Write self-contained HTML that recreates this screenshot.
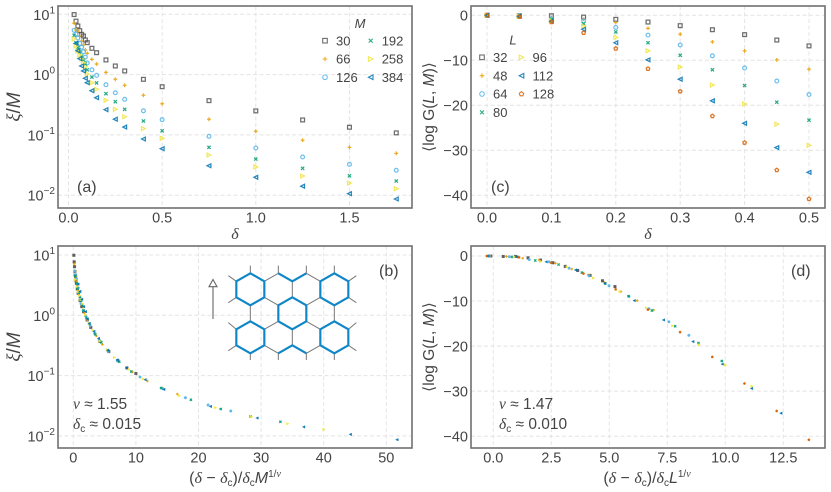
<!DOCTYPE html>
<html lang="en">
<head>
<meta charset="utf-8">
<title>Correlation length and log G scaling collapse</title>
<style>
html,body{margin:0;padding:0;background:#fff;}
svg{display:block;}
text{font-family:"Liberation Sans","DejaVu Sans",sans-serif;fill:#444;}
.tick{font-size:14.5px;}
.leg{font-size:13px;}
.panel-tag{font-size:16px;}
.axl{font-size:15.5px;}
.axb{font-size:16px;}
.xi{font-size:19px;}
.it{font-style:italic;}
.mi{font-family:"Liberation Serif","DejaVu Serif",serif;font-style:italic;}
.spine{fill:none;stroke:#707070;stroke-width:1.6;}
</style>
</head>
<body>
<svg id="figure" xmlns="http://www.w3.org/2000/svg" width="831" height="492" viewBox="0 0 831 492">
  <rect x="0" y="0" width="831" height="492" fill="#fff"/>
  <g id="grid-layer"></g>

  <g transform="translate(190,245) scale(0.33333)" fill="none" stroke-linejoin="round">
    <path stroke="#777" stroke-width="3" d="M223 109L265 85M349 85L391 109M307 109V157M223 157L265 181M349 181L391 157M181 181V229M433 181V229M223 253L265 229M349 229L391 253M307 253V301M223 301L265 325M349 325L391 301M181 85V62M265 85V62M349 85V62M433 85V62M139 109L115 92M139 157L115 173M475 109L499 92M475 157L499 173M139 253L115 233M139 301L115 317M475 253L499 233M475 301L499 317M181 325V345M265 325V345M349 325V345M433 325V345"/>
    <path stroke="#0f86c8" stroke-width="6.5" d="M181 85L223 109L223 157L181 181L139 157L139 109ZM433 85L475 109L475 157L433 181L391 157L391 109ZM307 157L349 181L349 229L307 253L265 229L265 181ZM181 229L223 253L223 301L181 325L139 301L139 253ZM433 229L475 253L475 301L433 325L391 301L391 253ZM265 85L307 109L349 85M265 325L307 301L349 325"/>
  </g>
  <g fill="none" stroke="#666" stroke-width="1.1">
    <path d="M213 319V287"/>
    <path d="M213 279.5L217 286.7H209Z"/>
  </g>

  <g id="marks-layer"></g>
  <g id="ticks-layer"></g>
  <g id="legend-layer"></g>

  <rect class="spine" x="58" y="6" width="354" height="202"/>
  <rect class="spine" x="471" y="6" width="354" height="202"/>
  <rect class="spine" x="58" y="246" width="354" height="202"/>
  <rect class="spine" x="471" y="246" width="354" height="202"/>

  <text class="panel-tag" x="77" y="192">(a)</text>
  <text class="panel-tag" x="379" y="276">(b)</text>
  <text class="panel-tag" x="491" y="192">(c)</text>
  <text class="panel-tag" x="791" y="276">(d)</text>

  <text class="xi" transform="translate(20,107) rotate(-90)" text-anchor="middle"><tspan class="mi">ξ</tspan>/<tspan class="it">M</tspan></text>
  <text class="xi" transform="translate(20,347) rotate(-90)" text-anchor="middle"><tspan class="mi">ξ</tspan>/<tspan class="it">M</tspan></text>
  <text class="axl" transform="translate(434,107) rotate(-90)" text-anchor="middle">⟨log G(<tspan class="it">L</tspan>, <tspan class="it">M</tspan>)⟩</text>
  <text class="axl" transform="translate(434,347) rotate(-90)" text-anchor="middle">⟨log G(<tspan class="it">L</tspan>, <tspan class="it">M</tspan>)⟩</text>

  <text class="axb mi" x="235" y="239" text-anchor="middle">δ</text>
  <text class="axb mi" x="648" y="239" text-anchor="middle">δ</text>
  <text class="axb" x="235" y="483" text-anchor="middle">(<tspan class="mi">δ</tspan> − <tspan class="mi">δ</tspan><tspan font-size="10" dy="3">c</tspan><tspan dy="-3">)/</tspan><tspan class="mi">δ</tspan><tspan font-size="10" dy="3">c</tspan><tspan class="it" dy="-3">M</tspan><tspan font-size="10" dy="-6">1/</tspan><tspan font-size="10" class="mi">ν</tspan></text>
  <text class="axb" x="647" y="483" text-anchor="middle">(<tspan class="mi">δ</tspan> − <tspan class="mi">δ</tspan><tspan font-size="10" dy="3">c</tspan><tspan dy="-3">)/</tspan><tspan class="mi">δ</tspan><tspan font-size="10" dy="3">c</tspan><tspan class="it" dy="-3">L</tspan><tspan font-size="10" dy="-6">1/</tspan><tspan font-size="10" class="mi">ν</tspan></text>

  <text class="axl" x="73" y="409"><tspan class="mi">ν</tspan> ≈ 1.55</text>
  <text class="axl" x="73" y="429"><tspan class="mi">δ</tspan><tspan font-size="10" dy="3">c</tspan><tspan dy="-3"> ≈ 0.015</tspan></text>
  <text class="axl" x="499" y="409"><tspan class="mi">ν</tspan> ≈ 1.47</text>
  <text class="axl" x="499" y="429"><tspan class="mi">δ</tspan><tspan font-size="10" dy="3">c</tspan><tspan dy="-3"> ≈ 0.010</tspan></text>
</svg>

<script>
// Panel (a)/(b): xi/M against delta for each bond dimension M
const deltaA = [0.03,0.04,0.05,0.06,0.07,0.08,0.09,0.1,0.125,0.15,0.2,0.25,0.3,0.4,0.5,0.75,1,1.25,1.5,1.75];
const massValues = [30,66,126,192,258,384];
const xiM30 = [9.9,7.7,6.4,5.35,4.65,4.37,3.75,3.39,2.73,2.31,1.75,1.39,1.15,0.835,0.63,0.37,0.25,0.177,0.134,0.108];
const xiM66 = [7.1,5.5,5.3,4.37,3.6,3.1,2.56,2.25,1.79,1.5,1.09,0.836,0.665,0.454,0.329,0.182,0.115,0.0815,0.0622,0.0495];
const xiM126 = [5.43,4.71,4.05,3.3,2.85,2.4,1.95,1.56,1.2,0.973,0.68,0.5,0.389,0.251,0.179,0.0948,0.0607,0.043,0.0325,0.0259];
const xiM192 = [4.49,3.38,2.79,2.37,2.03,1.75,1.5,1.2,0.912,0.726,0.482,0.356,0.266,0.17,0.117,0.0622,0.0398,0.0279,0.021,0.0172];
const xiM258 = [3.89,2.98,2.46,2.11,1.82,1.56,1.34,1.02,0.734,0.57,0.375,0.266,0.2,0.127,0.0879,0.0464,0.0294,0.0208,0.0159,0.0128];
const xiM384 = [null,3.3,2.49,1.84,1.39,1.15,0.869,0.734,0.541,0.414,0.262,0.182,0.135,0.0855,0.059,0.0308,0.0198,0.0141,0.0106,0.00865];
// Panel (b): per-M horizontal collapse factor and critical delta
const collapseB = [5.76,9.58,14.5,19.07,23.07,29.8];
const deltaCritB = 0.015;

// Panel (c)/(d): <log G> against delta for each length L
const deltaC = [0,0.05,0.1,0.15,0.2,0.25,0.3,0.35,0.4,0.45,0.5];
const lengthValues = [32,48,64,80,96,112,128];
const logG32 = [0,-0.1,-0.1,-0.4,-0.9,-1.5,-2.3,-3.2,-4.3,-5.5,-6.8];
const logG48 = [0,-0.1,-0.5,-0.9,-1.6,-2.9,-4.2,-5.9,-7.9,-9.9,-12.0];
const logG64 = [0,-0.15,-0.8,-1.3,-2.7,-4.4,-6.6,-9.0,-11.7,-14.6,-17.6];
const logG80 = [0,-0.2,-1,-1.9,-3.7,-6.1,-8.9,-12.1,-15.6,-19.3,-23.3];
const logG96 = [0,-0.2,-1.2,-2.4,-4.9,-7.9,-11.5,-15.5,-19.7,-24.2,-28.9];
const logG112 = [0,-0.2,-1.3,-3.1,-6.1,-9.9,-14.2,-19,-24,-29.4,-34.9];
const logG128 = [0,-0.3,-1.5,-3.9,-7.4,-11.9,-16.9,-22.4,-28.3,-34.4,-40.8];
// Panel (d): per-L horizontal collapse factor and critical delta
const collapseD = [10.7,14.1,17.2,20.1,22.75,25.3,27.76];
const deltaCritD = 0.01;

// Tick labels
const xTicksA = [0,0.5,1,1.5];
const xTicksB = [0,10,20,30,40,50];
const xTicksC = [0,0.1,0.2,0.3,0.4,0.5];
const xTicksD = [0,2.5,5,7.5,10,12.5];
const logTicks = [1,0,-1,-2];
const yTicksLinear = [0,-10,-20,-30,-40];

const seriesM = [xiM30,xiM66,xiM126,xiM192,xiM258,xiM384];
const seriesL = [logG32,logG48,logG64,logG80,logG96,logG112,logG128];
const shapes = ['square','plus','circle','cross','right','left','pentagon'];
const colors = ['#555555','#E69F00','#56B4E9','#009E73','#F0E442','#0072B2','#D55E00'];

// Axis functions
const axisA = {x: v => 68.5 + v * 187.3, y: v => 14.3 + (1 - Math.log10(v)) * 60.3};
const axisB = {x: v => 73.3 + v * 6.26, y: v => 255 + (1 - Math.log10(v)) * 60.3};
const axisC = {x: v => 487 + v * 644, y: v => 15.3 - v * 4.5};
const axisD = {x: v => 493.3 + v * 23.2, y: v => 256 - v * 4.505};

const NS = 'http://www.w3.org/2000/svg';
function make(tag, attrs, parent) {
  const node = document.createElementNS(NS, tag);
  for (const k in attrs) node.setAttribute(k, attrs[k]);
  parent.appendChild(node);
  return node;
}

function markerNode(parent, shape, cx, cy, r, color, opts) {
  const filled = opts.filled;
  const base = {
    fill: filled ? color : 'none',
    stroke: color,
    'stroke-width': filled ? 0.4 : opts.sw,
    opacity: opts.opacity
  };
  let node;
  if (shape === 'square') {
    node = make('rect', Object.assign({x: cx - r, y: cy - r, width: 2 * r, height: 2 * r}, base), parent);
  } else if (shape === 'circle') {
    node = make('circle', Object.assign({cx: cx, cy: cy, r: r}, base), parent);
  } else if (shape === 'plus') {
    base['stroke-width'] = filled ? 1.1 : opts.sw;
    node = make('path', Object.assign({d: `M${cx - r} ${cy}H${cx + r}M${cx} ${cy - r}V${cy + r}`}, base), parent);
  } else if (shape === 'cross') {
    base['stroke-width'] = filled ? 1.1 : opts.sw;
    const q = r * 0.85;
    node = make('path', Object.assign({d: `M${cx - q} ${cy - q}L${cx + q} ${cy + q}M${cx - q} ${cy + q}L${cx + q} ${cy - q}`}, base), parent);
  } else if (shape === 'right') {
    node = make('polygon', Object.assign({points: `${cx + r},${cy} ${cx - r},${cy - r} ${cx - r},${cy + r}`}, base), parent);
  } else if (shape === 'left') {
    node = make('polygon', Object.assign({points: `${cx - r},${cy} ${cx + r},${cy - r} ${cx + r},${cy + r}`}, base), parent);
  } else {
    const pts = [];
    for (let k = 0; k < 5; k++) {
      const a = -Math.PI / 2 + k * 2 * Math.PI / 5;
      pts.push((cx + r * Math.cos(a)).toFixed(2) + ',' + (cy + r * Math.sin(a)).toFixed(2));
    }
    node = make('polygon', Object.assign({points: pts.join(' ')}, base), parent);
  }
  return node;
}

const gridLayer = document.getElementById('grid-layer');
const ticksLayer = document.getElementById('ticks-layer');
const marksLayer = document.getElementById('marks-layer');
const legendLayer = document.getElementById('legend-layer');

function gridLine(x1, y1, x2, y2, name) {
  const line = make('line', {x1: x1, y1: y1, x2: x2, y2: y2, stroke: '#e4e4e4', 'stroke-width': 1, 'stroke-dasharray': '4 2.5'}, gridLayer);
  
  
}

function xTicks(ticks, axis, left, right, top, bottom, digits, panel) {
  ticks.forEach(v => {
    const px = axis.x(v);
    gridLine(px, top, px, bottom, panel + '-x-gridline');
    const t = make('text', {class: 'tick', x: px, y: bottom + 14.7, 'text-anchor': 'middle'}, ticksLayer);
    t.textContent = v.toFixed(digits);
    
    
  });
}

function logYTicks(ticks, axis, left, right, panel) {
  ticks.forEach(e => {
    const py = axis.y(Math.pow(10, e));
    gridLine(left, py, right, py, panel + '-y-gridline');
    const t = make('text', {class: 'tick', x: left - 3, y: py + 5.5, 'text-anchor': 'end'}, ticksLayer);
    
    
    const base = make('tspan', {}, t);
    base.textContent = '10';
    const sup = make('tspan', {'font-size': 10, dy: -6.5}, t);
    sup.textContent = String(e).replace('-', '\u2212');
  });
}

function linearYTicks(ticks, axis, left, right, panel) {
  ticks.forEach(v => {
    const py = axis.y(v);
    gridLine(left, py, right, py, panel + '-y-gridline');
    const t = make('text', {class: 'tick', x: left - 3, y: py + 5.2, 'text-anchor': 'end'}, ticksLayer);
    t.textContent = String(v).replace('-', '\u2212');
    
    
  });
}

xTicks(xTicksA, axisA, 58, 412, 6, 208, 1, 'panel-a');
logYTicks(logTicks, axisA, 58, 412, 'panel-a');
xTicks(xTicksB, axisB, 58, 412, 246, 448, 0, 'panel-b');
logYTicks(logTicks, axisB, 58, 412, 'panel-b');
xTicks(xTicksC, axisC, 471, 825, 6, 208, 1, 'panel-c');
linearYTicks(yTicksLinear, axisC, 471, 825, 'panel-c');
xTicks(xTicksD, axisD, 471, 825, 246, 448, 1, 'panel-d');
linearYTicks(yTicksLinear, axisD, 471, 825, 'panel-d');

const openStyle = {filled: false, sw: 1.25, opacity: 0.85};
const dotStyle = {filled: true, sw: 0, opacity: 0.95};

// Panel (a) open markers
seriesM.forEach((values, s) => {
  const group = make('g', {}, marksLayer);
  
  
  values.forEach((v, i) => {
    if (v === null) return;
    const m = markerNode(group, shapes[s], axisA.x(deltaA[i]), axisA.y(v), 1.9, colors[s], openStyle);
    
    
  });
});

// Panel (b) collapsed markers
seriesM.forEach((values, s) => {
  const group = make('g', {}, marksLayer);
  
  
  values.forEach((v, i) => {
    if (v === null) return;
    const sx = collapseB[s] * (deltaA[i] - deltaCritB);
    const m = markerNode(group, shapes[s], axisB.x(sx), axisB.y(v), 1.3, colors[s], dotStyle);
    
    
  });
});

// Panel (c) open markers
seriesL.forEach((values, s) => {
  const group = make('g', {}, marksLayer);
  
  
  values.forEach((v, i) => {
    const m = markerNode(group, shapes[s], axisC.x(deltaC[i]), axisC.y(v), 1.9, colors[s], openStyle);
    
    
  });
});

// Panel (d) collapsed markers
seriesL.forEach((values, s) => {
  const group = make('g', {}, marksLayer);
  
  
  values.forEach((v, i) => {
    const sx = collapseD[s] * (deltaC[i] - deltaCritD);
    const m = markerNode(group, shapes[s], axisD.x(sx), axisD.y(v), 1.3, colors[s], dotStyle);
    
    
  });
});

// Legends
const legendStyle = {filled: false, sw: 1.1, opacity: 0.85};
function legend(labels, title, titleX, titleY, colX, rowY, rowsPerCol, panel) {
  const head = make('text', {class: 'leg it', x: titleX, y: titleY, 'text-anchor': 'middle'}, legendLayer);
  head.textContent = title;
  
  
  labels.forEach((label, i) => {
    const col = Math.floor(i / rowsPerCol);
    const row = i % rowsPerCol;
    const entry = make('g', {}, legendLayer);
    
    
    const mk = markerNode(entry, shapes[i], colX[col], rowY[row], 2.3, colors[i], legendStyle);
    
    
    const t = make('text', {class: 'leg', x: colX[col] + 11, y: rowY[row] + 4.6}, entry);
    t.textContent = String(label);
    
    
  });
}
legend(massValues, 'M', 360, 28, [325, 370.7], [40.7, 59, 77.3], 3, 'panel-a');
legend(lengthValues, 'L', 513, 44.5, [482, 521.5], [57.3, 75.7, 94, 112.3], 4, 'panel-c');
</script>
</body>
</html>
